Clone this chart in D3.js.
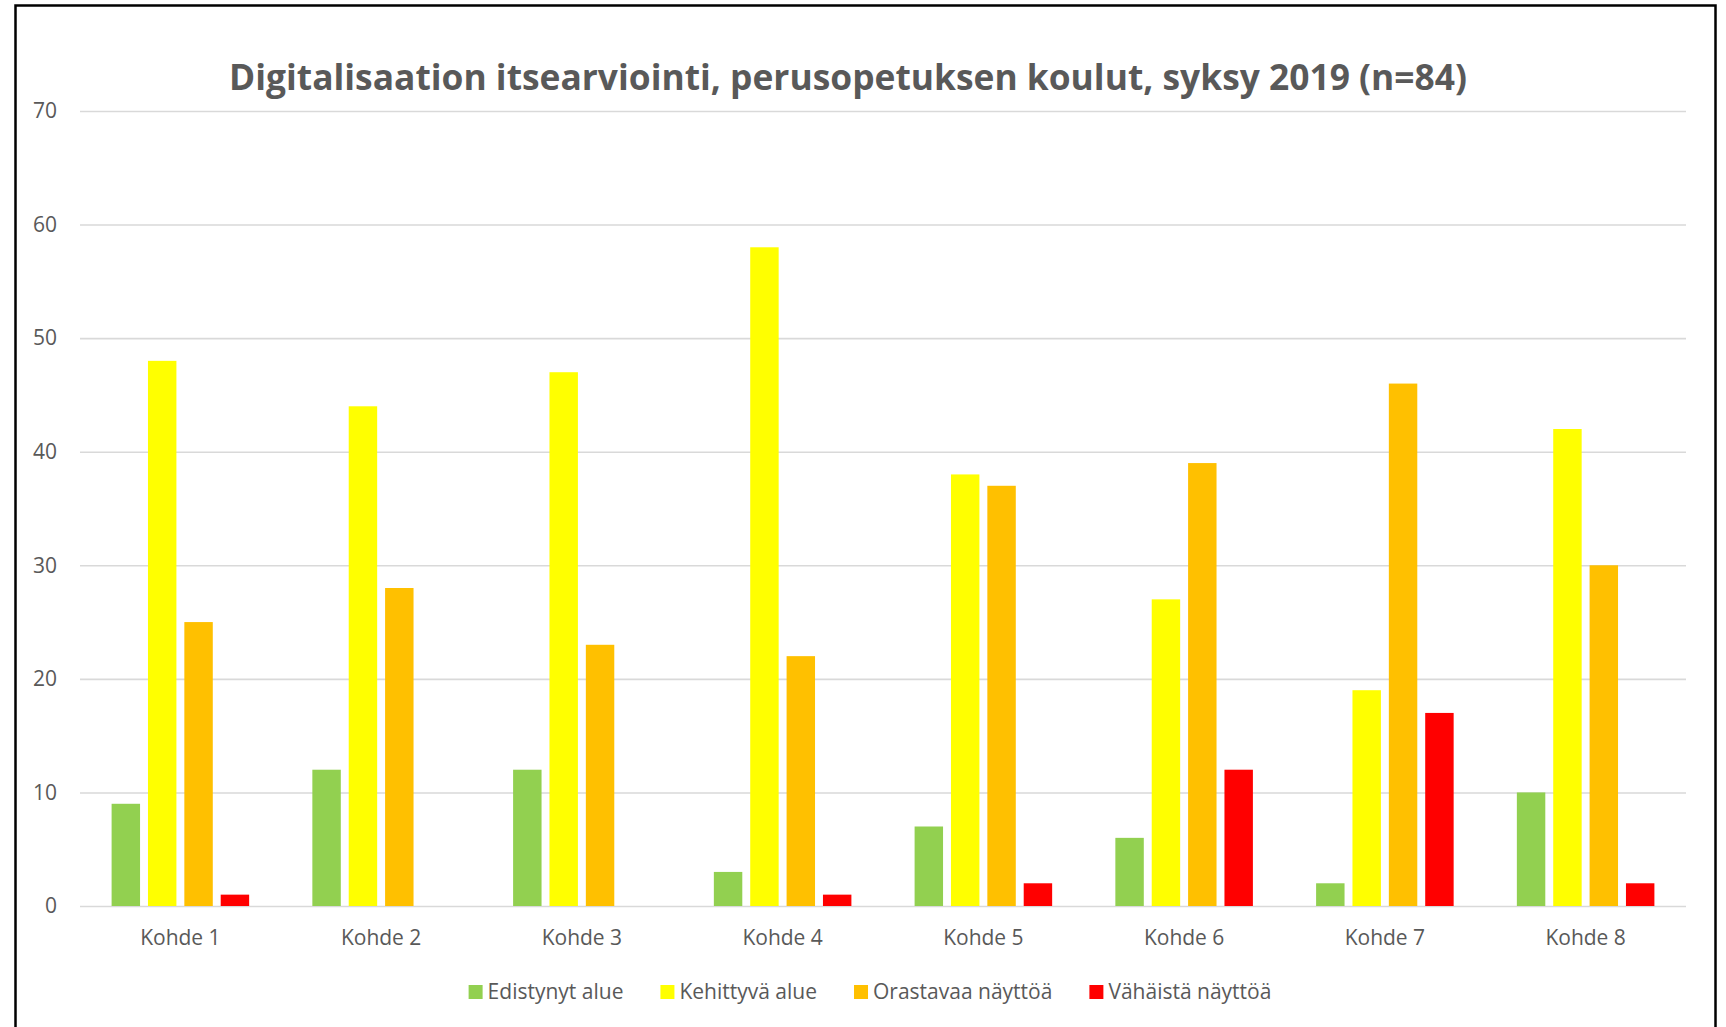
<!DOCTYPE html>
<html>
<head>
<meta charset="utf-8">
<script src="https://cdn.jsdelivr.net/npm/d3@7"></script>
<style>
  body { margin: 0; background: #fff; }
  svg { display: block; font-family: "Open Sans", sans-serif; }
</style>
</head>
<body>
<div id="chart"></div>
<script>
const categories = ['Kohde 1', 'Kohde 2', 'Kohde 3', 'Kohde 4', 'Kohde 5', 'Kohde 6', 'Kohde 7', 'Kohde 8'];
const seriesNames = ['Edistynyt alue', 'Kehittyvä alue', 'Orastavaa näyttöä', 'Vähäistä näyttöä'];
const edistynyt = [9, 12, 12, 3, 7, 6, 2, 10];
const kehittyva = [48, 44, 47, 58, 38, 27, 19, 42];
const orastavaa = [25, 28, 23, 22, 37, 39, 46, 30];
const vahaista = [1, 0, 0, 1, 2, 12, 17, 2];
const yTicks = [0, 10, 20, 30, 40, 50, 60, 70];
const colors = ['#92D050', '#FFFF00', '#FFC000', '#FF0000'];

const seriesValues = [edistynyt, kehittyva, orastavaa, vahaista];
const rows = categories.map((c, i) => ({
  category: c,
  values: seriesNames.map((s, j) => ({ series: s, value: seriesValues[j][i], color: colors[j] }))
}));

const W = 1726, H = 1027;
const margin = { top: 111, right: 40, bottom: 121, left: 80 };
const width = W - margin.left - margin.right;
const height = H - margin.top - margin.bottom;
const textColor = '#595959';
const labelSize = '21px';

const root = d3.select('#chart').append('svg')
  .attr('width', W)
  .attr('height', H);

// outer frame (bottom edge runs off the picture)
root.append('rect')
  .attr('x', 15.5).attr('y', 5.5)
  .attr('width', 1700).attr('height', 1100)
  .attr('fill', 'none')
  .attr('stroke', '#000')
  .attr('stroke-width', 2.5);

// title, fitted to the reference width
const title = root.append('text')
  .attr('x', 848).attr('y', 90)
  .attr('text-anchor', 'middle')
  .attr('font-weight', 'bold')
  .attr('font-size', 34)
  .attr('fill', textColor)
  .text('Digitalisaation itsearviointi, perusopetuksen koulut, syksy 2019 (n=84)');
const tw = title.node().getComputedTextLength();
title.attr('font-size', 34 * 1238 / tw);

const svg = root.append('g')
  .attr('transform', `translate(${margin.left},${margin.top})`);

const x0 = d3.scaleBand()
  .domain(categories)
  .range([0, width])
  .padding(0);

const x1 = d3.scaleBand()
  .domain(seriesNames)
  .range([31.6, x0.bandwidth() - 31.6])
  .paddingInner(0.218)
  .paddingOuter(0);

const y = d3.scaleLinear()
  .domain([0, 70])
  .range([height, 0]);

svg.append('g')
  .call(d3.axisLeft(y).tickValues(yTicks).tickSize(-width).tickPadding(23))
  .call(g => g.select('.domain').remove())
  .call(g => g.selectAll('.tick line').attr('stroke', '#D9D9D9').attr('stroke-width', 1.6))
  .call(g => g.selectAll('.tick text')
    .attr('fill', textColor)
    .style('font-size', labelSize)
    .style('font-family', '"Open Sans", sans-serif'));

svg.append('g')
  .attr('transform', `translate(0,${height})`)
  .call(d3.axisBottom(x0).tickSize(0).tickPadding(24))
  .call(g => g.select('.domain').remove())
  .call(g => g.selectAll('.tick text')
    .attr('fill', textColor)
    .style('font-size', labelSize)
    .style('font-family', '"Open Sans", sans-serif'));

const groups = svg.selectAll('.group')
  .data(rows)
  .enter().append('g')
  .attr('class', 'group')
  .attr('transform', d => `translate(${x0(d.category)},0)`);

groups.selectAll('rect')
  .data(d => d.values)
  .enter().append('rect')
  .attr('x', d => x1(d.series))
  .attr('y', d => y(d.value))
  .attr('width', x1.bandwidth())
  .attr('height', d => height - y(d.value))
  .attr('fill', d => d.color);

// legend, laid out from the text widths and centred
const legend = root.append('g');
const items = legend.selectAll('.item')
  .data(seriesNames)
  .enter().append('g')
  .attr('class', 'item');
items.append('rect')
  .attr('y', 985)
  .attr('width', 14).attr('height', 14)
  .attr('fill', (d, i) => colors[i]);
items.append('text')
  .attr('x', 19)
  .attr('y', 999)
  .attr('fill', textColor)
  .style('font-size', labelSize)
  .text(d => d);
let pos = 0;
items.each(function () {
  const w = d3.select(this).select('text').node().getComputedTextLength();
  d3.select(this).attr('transform', `translate(${pos},0)`);
  pos += 19 + w + 37;
});
const total = pos - 37;
legend.attr('transform', `translate(${870 - total / 2},0)`);
</script>
</body>
</html>
